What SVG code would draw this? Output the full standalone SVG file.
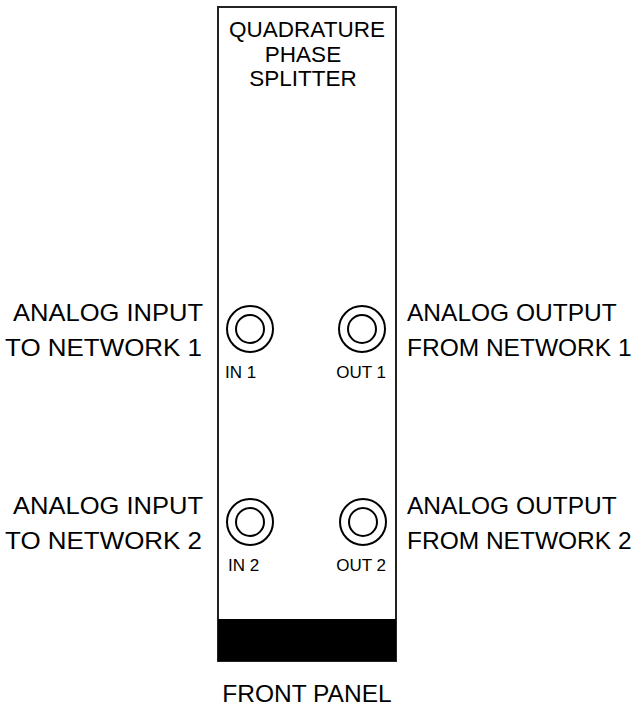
<svg xmlns="http://www.w3.org/2000/svg" width="643" height="707" viewBox="0 0 643 707">
<style>
.t{font-family:"Liberation Sans",Arial,sans-serif;fill:#000}
.lbl{font-size:24.5px}
.ttl{font-size:22.5px;text-anchor:middle}
.jl{font-size:17px}
.jack{fill:none;stroke:#000;stroke-width:2}
</style>
<rect width="643" height="707" fill="#fff"/>
<g id="panel">
<rect x="218" y="7" width="178" height="654" fill="#fff" stroke="#222" stroke-width="2"/>
<rect x="218" y="619" width="178" height="42" fill="#000"/>
<text class="t ttl" x="307" y="37">QUADRATURE</text>
<text class="t ttl" x="303" y="62">PHASE</text>
<text class="t ttl" x="303" y="86">SPLITTER</text>
</g>
<g id="in1">
<circle class="jack" cx="250" cy="329" r="23"/>
<circle class="jack" cx="250" cy="329" r="14"/>
<text class="t jl" x="225" y="378">IN 1</text>
</g>
<g id="out1">
<circle class="jack" cx="362" cy="329" r="23"/>
<circle class="jack" cx="362" cy="329" r="14"/>
<text class="t jl" x="386" y="378" text-anchor="end">OUT 1</text>
</g>
<g id="in2">
<circle class="jack" cx="250" cy="522" r="23"/>
<circle class="jack" cx="250" cy="522" r="14"/>
<text class="t jl" x="228" y="571">IN 2</text>
</g>
<g id="out2">
<circle class="jack" cx="363" cy="522" r="23"/>
<circle class="jack" cx="363" cy="522" r="14"/>
<text class="t jl" x="386" y="571" text-anchor="end">OUT 2</text>
</g>
<g id="labels">
<text class="t lbl" x="13" y="321" textLength="190" lengthAdjust="spacingAndGlyphs">ANALOG INPUT</text>
<text class="t lbl" x="5" y="356" textLength="197" lengthAdjust="spacingAndGlyphs">TO NETWORK 1</text>
<text class="t lbl" x="407" y="321">ANALOG OUTPUT</text>
<text class="t lbl" x="407" y="356">FROM NETWORK 1</text>
<text class="t lbl" x="13" y="514" textLength="190" lengthAdjust="spacingAndGlyphs">ANALOG INPUT</text>
<text class="t lbl" x="5" y="549" textLength="197" lengthAdjust="spacingAndGlyphs">TO NETWORK 2</text>
<text class="t lbl" x="407" y="514">ANALOG OUTPUT</text>
<text class="t lbl" x="407" y="549">FROM NETWORK 2</text>
<text class="t lbl" x="307" y="702" text-anchor="middle">FRONT PANEL</text>
</g>
<g id="connectors"/>
</svg>
